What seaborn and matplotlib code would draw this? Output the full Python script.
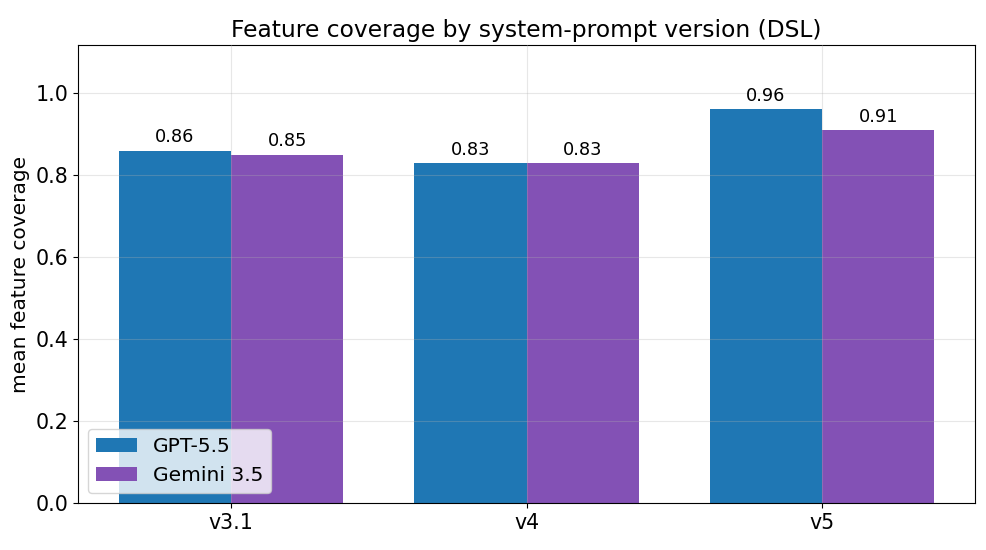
import matplotlib
matplotlib.use("Agg")
import matplotlib.pyplot as plt
import pandas as pd
import seaborn as sns

versions = ["v3.1", "v4", "v5"]
gpt_scores = [0.86, 0.83, 0.96]
gemini_scores = [0.85, 0.83, 0.91]
models = ["GPT-5.5", "Gemini 3.5"]
colors = ["#1f77b4", "#8351b5"]

df = pd.DataFrame({
    "version": versions * 2,
    "coverage": gpt_scores + gemini_scores,
    "model": [models[0]] * len(versions) + [models[1]] * len(versions),
})

fig, ax = plt.subplots(figsize=(9.87, 5.5), dpi=100)
sns.barplot(data=df, x="version", y="coverage", hue="model", order=versions,
            hue_order=models, palette=colors, width=0.76, saturation=1,
            linewidth=0, errorbar=None, ax=ax)

for cont in ax.containers:
    ax.bar_label(cont, fmt="%.2f", padding=3, fontsize=12.8)

ax.set_xlim(-0.518, 2.518)
ax.set_ylim(0, 1.117)
ax.set_xlabel("")
ax.set_ylabel("mean feature coverage", fontsize=14.5)
ax.set_title("Feature coverage by system-prompt version (DSL)", fontsize=16.8)
ax.tick_params(labelsize=14.8)
ax.grid(True, alpha=0.3)
ax.set_axisbelow(False)
ax.legend(loc="lower left", fontsize=14.6)

plt.subplots_adjust(left=0.079, right=0.988, top=0.918, bottom=0.085)
plt.savefig("out.png", dpi=100)
plt.close()
